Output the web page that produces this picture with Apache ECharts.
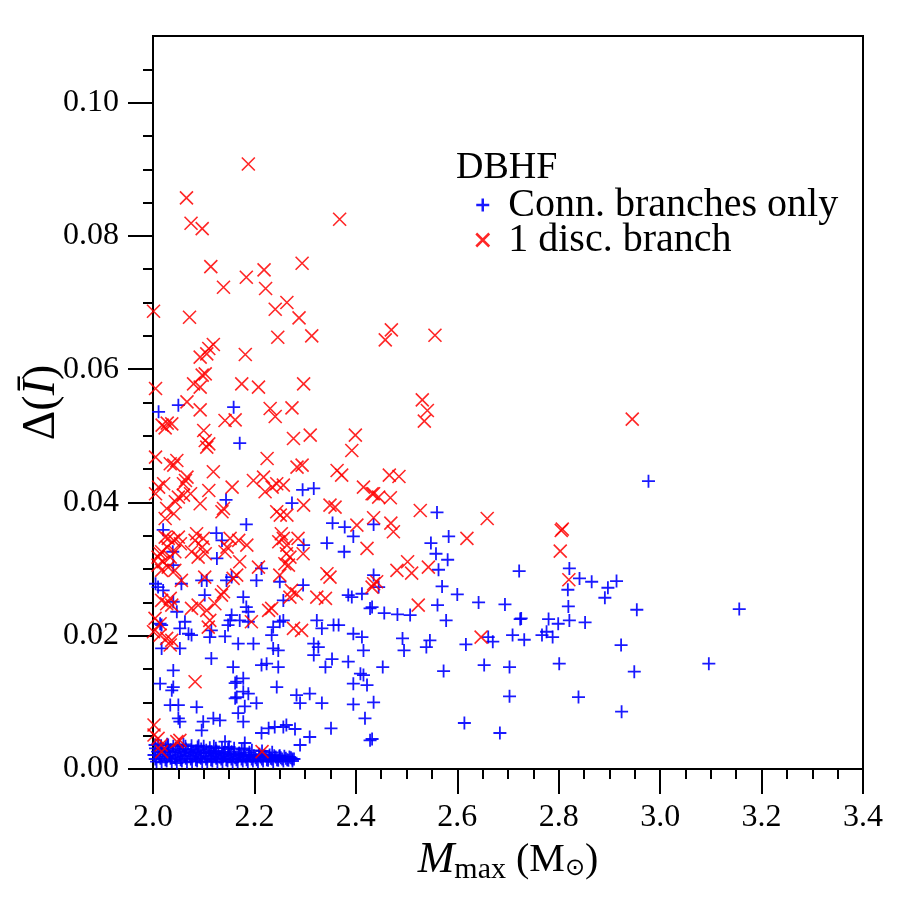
<!DOCTYPE html>
<html>
<head>
<meta charset="utf-8">
<script src="https://cdn.jsdelivr.net/npm/echarts@6/dist/echarts.min.js"></script>
<style>
  html, body { margin: 0; padding: 0; background: #fff; }
  #chart { width: 900px; height: 900px; }
</style>
</head>
<body>
<div id="chart"></div>
<script>
// 连通分支 (blue +), scattered part
const connScatter = [
  [2.560, 0.0385], [2.583, 0.0349], [2.548, 0.0339], [2.558, 0.0323], [2.581, 0.0314], [2.563, 0.0299],
  [2.722, 0.0297], [2.821, 0.0301], [2.841, 0.0286], [2.865, 0.0281], [2.914, 0.0282], [2.897, 0.0272],
  [2.891, 0.0257], [2.818, 0.0269], [2.819, 0.0244], [2.570, 0.0274], [2.600, 0.0262], [2.642, 0.0250],
  [2.694, 0.0247], [2.561, 0.0246], [2.456, 0.0234], [2.482, 0.0232], [2.507, 0.0231], [2.578, 0.0223],
  [2.724, 0.0225], [2.726, 0.0226], [2.780, 0.0225], [2.799, 0.0218], [2.821, 0.0223], [2.852, 0.0220],
  [2.767, 0.0201], [2.788, 0.0198], [2.776, 0.0206], [2.709, 0.0201], [2.732, 0.0194], [2.661, 0.0198],
  [2.670, 0.0191], [2.617, 0.0187], [2.546, 0.0193], [2.539, 0.0183], [2.492, 0.0196], [2.495, 0.0178],
  [2.923, 0.0186], [2.453, 0.0153], [2.573, 0.0147], [2.653, 0.0156], [2.703, 0.0153], [2.801, 0.0158],
  [2.435, 0.0100], [2.703, 0.0109], [2.839, 0.0108], [2.924, 0.0086], [2.614, 0.0069], [2.684, 0.0054],
  [2.432, 0.0045], [2.435, 0.0367], [2.435, 0.0291], [2.445, 0.0273], [2.432, 0.0243], [2.977, 0.0432],
  [2.954, 0.0239], [3.156, 0.0240], [2.949, 0.0146], [3.096, 0.0158],
  [2.011, 0.0536], [2.050, 0.0546], [2.159, 0.0543], [2.171, 0.0489], [2.144, 0.0404], [2.274, 0.0399],
  [2.295, 0.0419], [2.317, 0.0421], [2.184, 0.0367], [2.020, 0.0359], [2.125, 0.0354], [2.136, 0.0343],
  [2.354, 0.0369], [2.378, 0.0363], [2.395, 0.0349], [2.343, 0.0339], [2.297, 0.0336], [2.377, 0.0326],
  [2.039, 0.0326], [2.126, 0.0316], [2.040, 0.0306], [2.096, 0.0283], [2.106, 0.0283], [2.145, 0.0283],
  [2.155, 0.0288], [2.204, 0.0283], [2.214, 0.0301], [2.250, 0.0281], [2.296, 0.0276], [2.010, 0.0273],
  [2.020, 0.0268], [2.056, 0.0278], [2.102, 0.0261], [2.178, 0.0258], [2.257, 0.0253], [2.040, 0.0251],
  [2.047, 0.0236], [2.184, 0.0243], [2.188, 0.0236], [2.155, 0.0231], [2.152, 0.0223], [2.148, 0.0216],
  [2.171, 0.0223], [2.063, 0.0221], [2.053, 0.0211], [2.070, 0.0203], [2.076, 0.0201], [2.115, 0.0208],
  [2.112, 0.0198], [2.142, 0.0199], [2.017, 0.0216], [2.237, 0.0213], [2.250, 0.0221], [2.257, 0.0223],
  [2.234, 0.0201], [2.168, 0.0188], [2.198, 0.0188], [2.017, 0.0181], [2.053, 0.0181], [2.237, 0.0181],
  [2.247, 0.0178], [2.115, 0.0166], [2.214, 0.0156], [2.224, 0.0158], [2.247, 0.0153], [2.040, 0.0148],
  [2.158, 0.0153], [2.178, 0.0136], [2.165, 0.0131], [2.014, 0.0128], [2.040, 0.0123], [2.244, 0.0123],
  [2.178, 0.0116], [2.188, 0.0113], [2.165, 0.0108], [2.283, 0.0111], [2.290, 0.0099], [2.204, 0.0099],
  [2.034, 0.0096], [2.050, 0.0096], [2.086, 0.0093], [2.181, 0.0094], [2.037, 0.0118], [2.162, 0.0129],
  [2.309, 0.0113], [2.162, 0.0106], [2.168, 0.0084], [2.050, 0.0076], [2.053, 0.0071], [2.099, 0.0071],
  [2.119, 0.0076], [2.132, 0.0073], [2.178, 0.0071], [2.096, 0.0058], [2.214, 0.0054], [2.240, 0.0063],
  [2.257, 0.0063], [2.263, 0.0066], [2.280, 0.0060], [2.309, 0.0048], [2.142, 0.0041], [2.181, 0.0039],
  [2.290, 0.0036], [2.385, 0.0261], [2.392, 0.0258], [2.412, 0.0263], [2.428, 0.0241], [2.323, 0.0223],
  [2.333, 0.0211], [2.356, 0.0216], [2.366, 0.0216], [2.395, 0.0203], [2.412, 0.0198], [2.317, 0.0188],
  [2.326, 0.0183], [2.317, 0.0171], [2.415, 0.0178], [2.353, 0.0165], [2.340, 0.0153], [2.385, 0.0161],
  [2.409, 0.0143], [2.415, 0.0141], [2.395, 0.0128], [2.422, 0.0126], [2.333, 0.0099], [2.395, 0.0097],
  [2.418, 0.0076], [2.228, 0.0061], [2.351, 0.0061], [2.428, 0.0043], [2.005, 0.0278], [2.188, 0.0221],
  [2.014, 0.0218]
]

// 连通分支 dense band near zero
const connBand = [
  [2.010, 0.0038], [2.030, 0.0036], [2.060, 0.0037], [2.090, 0.0035], [2.120, 0.0034], [2.150, 0.0033], [2.180, 0.0031],
  [2.004, 0.0036], [2.016, 0.0035], [2.028, 0.0037], [2.040, 0.0034], [2.052, 0.0036], [2.064, 0.0034],
  [2.076, 0.0035], [2.088, 0.0033], [2.100, 0.0034], [2.112, 0.0032], [2.124, 0.0031], [2.136, 0.0032],
  [2.148, 0.0030], [2.160, 0.0031], [2.175, 0.0029], [2.195, 0.0028], [2.215, 0.0027], [2.235, 0.0025],
  [2.005, 0.0031], [2.015, 0.0030], [2.025, 0.0032], [2.035, 0.0029], [2.045, 0.0031], [2.055, 0.0028],
  [2.065, 0.0030], [2.075, 0.0029], [2.085, 0.0027], [2.095, 0.0030], [2.105, 0.0028], [2.115, 0.0026],
  [2.125, 0.0027], [2.140, 0.0025], [2.155, 0.0026], [2.170, 0.0024], [2.190, 0.0025], [2.210, 0.0022],
  [2.230, 0.0021], [2.250, 0.0020],
  [2.009, 0.0026], [2.019, 0.0025], [2.029, 0.0027], [2.039, 0.0025], [2.049, 0.0026], [2.059, 0.0024],
  [2.069, 0.0026], [2.079, 0.0025], [2.089, 0.0024], [2.099, 0.0025], [2.109, 0.0024], [2.119, 0.0023],
  [2.129, 0.0024], [2.139, 0.0022], [2.149, 0.0023], [2.159, 0.0022], [2.169, 0.0021], [2.179, 0.0022],
  [2.189, 0.0021], [2.199, 0.0020], [2.209, 0.0021], [2.219, 0.0020], [2.229, 0.0019], [2.239, 0.0020],
  [2.249, 0.0019], [2.259, 0.0019], [2.269, 0.0018],
  [2.002, 0.0021], [2.012, 0.0019], [2.022, 0.0022], [2.032, 0.0020], [2.042, 0.0018], [2.052, 0.0021],
  [2.062, 0.0019], [2.072, 0.0020], [2.082, 0.0022], [2.092, 0.0018], [2.102, 0.0020], [2.112, 0.0019],
  [2.122, 0.0021], [2.132, 0.0018], [2.142, 0.0020], [2.152, 0.0019], [2.162, 0.0017], [2.172, 0.0020],
  [2.182, 0.0018], [2.192, 0.0019], [2.202, 0.0017], [2.212, 0.0018], [2.222, 0.0019], [2.232, 0.0016],
  [2.242, 0.0018], [2.252, 0.0017], [2.262, 0.0016], [2.272, 0.0017], [2.278, 0.0015],
  [2.0045, 0.0015], [2.0145, 0.0016], [2.0245, 0.0014], [2.0345, 0.0016], [2.0445, 0.0015], [2.0545, 0.0014],
  [2.0645, 0.0016], [2.0745, 0.0015], [2.0845, 0.0014], [2.0945, 0.0016], [2.1045, 0.0015], [2.1145, 0.0014],
  [2.1245, 0.0016], [2.1345, 0.0015], [2.1445, 0.0014], [2.1545, 0.0015], [2.1645, 0.0014], [2.1745, 0.0015],
  [2.1845, 0.0014], [2.1945, 0.0015], [2.2045, 0.0014], [2.2145, 0.0015], [2.2245, 0.0014], [2.2345, 0.0015],
  [2.2445, 0.0014], [2.2545, 0.0015], [2.2645, 0.0014], [2.2745, 0.0015],
  [2.007, 0.0011], [2.017, 0.0010], [2.027, 0.0012], [2.037, 0.0011], [2.047, 0.0009], [2.057, 0.0012],
  [2.067, 0.0010], [2.077, 0.0011], [2.087, 0.0012], [2.097, 0.0010], [2.107, 0.0011], [2.117, 0.0012],
  [2.127, 0.0010], [2.137, 0.0011], [2.147, 0.0012], [2.157, 0.0010], [2.167, 0.0011], [2.177, 0.0012],
  [2.187, 0.0011], [2.197, 0.0012], [2.207, 0.0011], [2.217, 0.0012], [2.227, 0.0013], [2.237, 0.0011],
  [2.247, 0.0013], [2.257, 0.0012], [2.267, 0.0013], [2.275, 0.0012]
]

// 1 个不连通分支 (red x)
const discBranch = [
  [2.188, 0.0908], [2.066, 0.0857], [2.075, 0.0819], [2.097, 0.0811], [2.368, 0.0825], [2.114, 0.0754],
  [2.139, 0.0723], [2.184, 0.0738], [2.219, 0.0749], [2.222, 0.0721], [2.294, 0.0759], [2.001, 0.0687],
  [2.072, 0.0678], [2.241, 0.0690], [2.264, 0.0700], [2.288, 0.0677], [2.246, 0.0648], [2.313, 0.0650],
  [2.458, 0.0644], [2.470, 0.0659], [2.556, 0.0651], [2.106, 0.0623], [2.119, 0.0637], [2.093, 0.0618],
  [2.182, 0.0622], [2.531, 0.0554], [2.541, 0.0538], [2.535, 0.0522], [2.945, 0.0525], [2.110, 0.0631],
  [2.103, 0.0593], [2.097, 0.0591], [2.080, 0.0578], [2.093, 0.0573], [2.175, 0.0578], [2.208, 0.0573],
  [2.297, 0.0578], [2.005, 0.0571], [2.067, 0.0551], [2.093, 0.0539], [2.231, 0.0541], [2.241, 0.0529],
  [2.274, 0.0542], [2.028, 0.0519], [2.018, 0.0516], [2.024, 0.0512], [2.037, 0.0518], [2.142, 0.0523],
  [2.162, 0.0524], [2.100, 0.0508], [2.110, 0.0488], [2.106, 0.0483], [2.103, 0.0493], [2.277, 0.0496],
  [2.310, 0.0501], [2.399, 0.0501], [2.392, 0.0478], [2.005, 0.0468], [2.034, 0.0458], [2.047, 0.0463],
  [2.041, 0.0456], [2.225, 0.0466], [2.284, 0.0453], [2.294, 0.0456], [2.363, 0.0448], [2.372, 0.0441],
  [2.119, 0.0446], [2.064, 0.0433], [2.067, 0.0438], [2.060, 0.0428], [2.198, 0.0433], [2.218, 0.0438],
  [2.235, 0.0423], [2.244, 0.0428], [2.257, 0.0426], [2.221, 0.0416], [2.011, 0.0423], [2.021, 0.0428],
  [2.156, 0.0423], [2.110, 0.0418], [2.415, 0.0423], [2.435, 0.0413], [2.445, 0.0408], [2.005, 0.0413],
  [2.050, 0.0408], [2.044, 0.0401], [2.060, 0.0411], [2.074, 0.0413], [2.093, 0.0398], [2.136, 0.0386],
  [2.139, 0.0391], [2.297, 0.0396], [2.349, 0.0396], [2.359, 0.0393], [2.244, 0.0386], [2.251, 0.0381],
  [2.264, 0.0381], [2.041, 0.0383], [2.024, 0.0376], [2.024, 0.0348], [2.041, 0.0343], [2.054, 0.0338],
  [2.028, 0.0333], [2.083, 0.0343], [2.097, 0.0333], [2.103, 0.0323], [2.146, 0.0333], [2.169, 0.0343],
  [2.185, 0.0336], [2.248, 0.0341], [2.257, 0.0346], [2.264, 0.0336], [2.422, 0.0331], [2.402, 0.0366],
  [2.014, 0.0323], [2.034, 0.0318], [2.466, 0.0441], [2.485, 0.0439], [2.432, 0.0413], [2.468, 0.0407],
  [2.527, 0.0388], [2.435, 0.0377], [2.469, 0.0369], [2.474, 0.0356], [2.659, 0.0376], [2.805, 0.0358],
  [2.807, 0.0360], [2.619, 0.0346], [2.803, 0.0327], [2.820, 0.0284], [2.523, 0.0246], [2.647, 0.0198],
  [2.502, 0.0311], [2.481, 0.0298], [2.510, 0.0294], [2.543, 0.0303], [2.441, 0.0281], [2.432, 0.0273],
  [2.027, 0.0391], [2.030, 0.0346], [2.050, 0.0348], [2.086, 0.0353], [2.099, 0.0346], [2.152, 0.0346],
  [2.253, 0.0353], [2.286, 0.0346], [2.296, 0.0323], [2.017, 0.0326], [2.043, 0.0326], [2.076, 0.0326],
  [2.089, 0.0318], [2.010, 0.0318], [2.020, 0.0311], [2.010, 0.0306], [2.030, 0.0303], [2.017, 0.0298],
  [2.043, 0.0298], [2.056, 0.0283], [2.142, 0.0326], [2.171, 0.0311], [2.208, 0.0303], [2.263, 0.0323],
  [2.270, 0.0318], [2.267, 0.0306], [2.260, 0.0308], [2.102, 0.0288], [2.165, 0.0291], [2.158, 0.0286],
  [2.250, 0.0291], [2.139, 0.0266], [2.135, 0.0261], [2.273, 0.0268], [2.283, 0.0263], [2.270, 0.0258],
  [2.017, 0.0253], [2.027, 0.0248], [2.034, 0.0256], [2.037, 0.0246], [2.076, 0.0241], [2.089, 0.0246],
  [2.106, 0.0238], [2.122, 0.0248], [2.234, 0.0241], [2.112, 0.0223], [2.109, 0.0213], [2.194, 0.0221],
  [2.004, 0.0226], [2.014, 0.0218], [2.277, 0.0211], [2.293, 0.0208], [2.001, 0.0206], [2.014, 0.0201],
  [2.027, 0.0196], [2.037, 0.0193], [2.034, 0.0186], [2.083, 0.0131], [2.349, 0.0288], [2.343, 0.0293],
  [2.323, 0.0258], [2.340, 0.0256], [2.435, 0.0278], [2.228, 0.0238], [2.215, 0.0026], [2.010, 0.0046],
  [2.016, 0.0036], [2.017, 0.0026], [2.047, 0.0041], [2.053, 0.0043], [2.002, 0.0051], [2.002, 0.0066]
]

const xTickLabels = ['2.0', '2.2', '2.4', '2.6', '2.8', '3.0', '3.2', '3.4']
const yTickValues = [0, 0.02, 0.04, 0.06, 0.08, 0.10]

const plusIcon = 'path://M0,6L12,6M6,0L6,12'
const crossIcon = 'path://M0,0L12,12M12,0L0,12'
const serif = 'Liberation Serif, DejaVu Serif, serif'

// 次刻度 每 0.005
const yMinorValues = []
for (let i = 0; i <= 21; i++) yMinorValues.push(+(i * 0.005).toFixed(3))

const chart = echarts.init(document.getElementById('chart'), null, { renderer: 'canvas' })
const option = {
  backgroundColor: '#fff',
  animation: false,
  title: {
    text: 'DBHF',
    left: 451,
    top: 144,
    textStyle: { fontFamily: serif, fontSize: 38, fontWeight: 'normal', color: '#000' }
  },
  legend: {
    orient: 'vertical',
    left: 470,
    top: 180,
    itemGap: -5,
    itemWidth: 13,
    itemHeight: 13,
    data: [
      { name: 'Conn. branches only', icon: plusIcon, itemStyle: { color: 'rgba(0,0,0,0)', borderColor: '#0000ff', borderWidth: 2.5 } },
      { name: '1 disc. branch', icon: crossIcon, itemStyle: { color: 'rgba(0,0,0,0)', borderColor: '#ff0000', borderWidth: 2.5 } }
    ],
    textStyle: { fontFamily: serif, fontSize: 40, lineHeight: 34, color: '#000', padding: [0, 0, 0, 14] }
  },
  grid: {
    left: 153,
    right: 37,
    top: 36,
    bottom: 131,
    show: true,
    borderColor: '#000',
    borderWidth: 2,
    backgroundColor: 'rgba(0,0,0,0)'
  },
  xAxis: {
    type: 'value',
    min: 2.0,
    max: 3.4,
    interval: 0.2,
    name: '{i|M}{s|max}{n| (M}{o|⊙}{n|)}',
    nameLocation: 'middle',
    nameGap: 58,
    nameTextStyle: {
      rich: {
        i: { fontFamily: serif, fontStyle: 'italic', fontSize: 44, color: '#000' },
        s: { fontFamily: serif, fontSize: 30, color: '#000', padding: [18, 0, 0, 0] },
        n: { fontFamily: serif, fontSize: 40, color: '#000' },
        o: { fontFamily: 'DejaVu Sans, serif', fontSize: 24, color: '#000', padding: [16, 0, 0, 0] }
      }
    },
    axisLine: { onZero: false, lineStyle: { color: '#000', width: 2 } },
    axisTick: { inside: false, length: 25, lineStyle: { color: '#000', width: 2 } },
    minorTick: { show: true, splitNumber: 4, length: 10, lineStyle: { color: '#000', width: 2 } },
    axisLabel: {
      margin: 33,
      color: '#000',
      fontFamily: serif,
      fontSize: 32,
      formatter(v) {
        const idx = Math.round((v - 2.0) / 0.2)
        return xTickLabels[idx] || ''
      }
    },
    splitLine: { show: false }
  },
  yAxis: [
    {
      type: 'value',
      position: 'left',
      min: 0,
      max: 0.11,
      name: '{n|Δ(}{i|Ī}{n|)}',
      nameLocation: 'middle',
      nameGap: 88,
      nameRotate: 90,
      nameTextStyle: {
        rich: {
          n: { fontFamily: serif, fontSize: 46, color: '#000' },
          i: { fontFamily: serif, fontStyle: 'italic', fontSize: 46, color: '#000' }
        }
      },
      axisLine: { onZero: false, lineStyle: { color: '#000', width: 2 } },
      axisTick: { inside: false, length: 10, customValues: yMinorValues, lineStyle: { color: '#000', width: 2 } },
      axisLabel: { show: false },
      splitLine: { show: false }
    },
    {
      type: 'value',
      position: 'left',
      min: 0,
      max: 0.11,
      axisLine: { show: false },
      axisTick: { inside: false, length: 25, customValues: yTickValues, lineStyle: { color: '#000', width: 2 } },
      axisLabel: {
        margin: 34,
        color: '#000',
        fontFamily: serif,
        fontSize: 32,
        customValues: yTickValues,
        formatter(v) { return v.toFixed(2) }
      },
      splitLine: { show: false }
    }
  ],
  series: [
    {
      name: 'Conn. branches only',
      type: 'scatter',
      yAxisIndex: 0,
      symbol: plusIcon,
      symbolSize: 13,
      itemStyle: { color: 'rgba(0,0,0,0)', borderColor: '#0000ff', borderWidth: 1.8, opacity: 0.9 },
      data: connScatter.concat(connBand)
    },
    {
      name: '1 disc. branch',
      type: 'scatter',
      yAxisIndex: 0,
      symbol: crossIcon,
      symbolSize: 13,
      itemStyle: { color: 'rgba(0,0,0,0)', borderColor: '#ff0000', borderWidth: 1.6, opacity: 0.85 },
      data: discBranch
    }
  ]
}
chart.setOption(option)
</script>
</body>
</html>
